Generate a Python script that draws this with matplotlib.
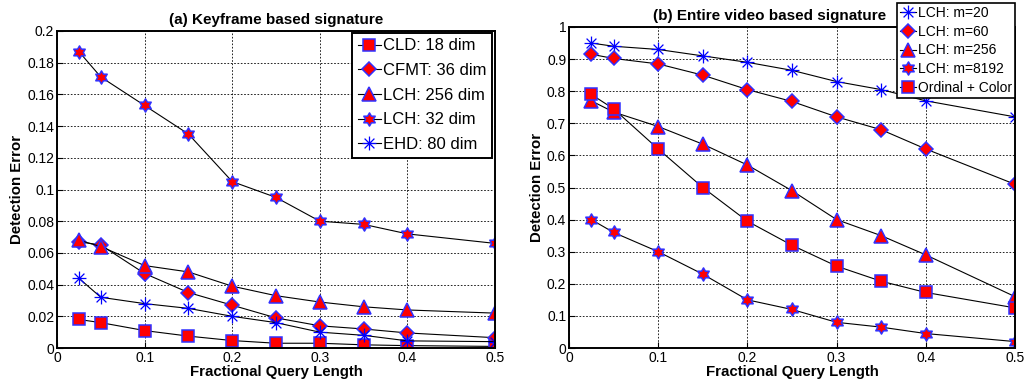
import matplotlib
matplotlib.use("Agg")
import matplotlib.pyplot as plt
from matplotlib.path import Path
import numpy as np

plt.rcParams['font.family'] = ['Liberation Sans', 'DejaVu Sans']

frac = [0.025, 0.05, 0.1, 0.15, 0.2, 0.25, 0.3, 0.35, 0.4, 0.5]

# (a) keyframe based signatures
cld_18 = [0.018, 0.016, 0.011, 0.0075, 0.0047, 0.003, 0.003, 0.002, 0.0015, 0.001]
cfmt_36 = [0.067, 0.065, 0.047, 0.035, 0.027, 0.019, 0.014, 0.012, 0.0095, 0.0065]
lch_256 = [0.068, 0.064, 0.052, 0.048, 0.039, 0.033, 0.029, 0.026, 0.024, 0.022]
lch_32 = [0.187, 0.171, 0.153, 0.135, 0.105, 0.095, 0.080, 0.078, 0.072, 0.066]
ehd_80 = [0.044, 0.032, 0.028, 0.025, 0.020, 0.016, 0.010, 0.008, 0.0045, 0.004]
labels_a = ['CLD: 18 dim', 'CFMT: 36 dim', 'LCH: 256 dim', 'LCH: 32 dim', 'EHD: 80 dim']

# (b) entire video based signatures
lch_m20 = [0.95, 0.94, 0.93, 0.91, 0.89, 0.865, 0.83, 0.805, 0.77, 0.72]
lch_m60 = [0.915, 0.902, 0.885, 0.85, 0.805, 0.768, 0.72, 0.68, 0.62, 0.51]
lch_m256 = [0.77, 0.735, 0.69, 0.635, 0.57, 0.49, 0.40, 0.35, 0.29, 0.16]
lch_m8192 = [0.40, 0.36, 0.30, 0.23, 0.15, 0.12, 0.08, 0.065, 0.045, 0.02]
ordinal_color = [0.79, 0.745, 0.62, 0.50, 0.395, 0.32, 0.255, 0.208, 0.173, 0.125]
labels_b = ['LCH: m=20', 'LCH: m=60', 'LCH: m=256', 'LCH: m=8192', 'Ordinal + Color']

# six-pointed star (hexagram)
ang = np.linspace(0, 2 * np.pi, 13)[:-1] + np.pi / 2
rad = np.where(np.arange(12) % 2 == 0, 1.0, 0.58)
verts = np.column_stack([rad * np.cos(ang), rad * np.sin(ang)])
hexagram = Path(np.vstack([verts, verts[:1]]), closed=True)

# eight-armed asterisk
ast_v, ast_c = [], []
for a in np.arange(4) * np.pi / 4:
    ast_v += [(np.cos(a), np.sin(a)), (-np.cos(a), -np.sin(a))]
    ast_c += [Path.MOVETO, Path.LINETO]
asterisk = Path(ast_v, ast_c)

styles = {
    's': dict(marker='s', markersize=8),
    'd': dict(marker='D', markersize=7.5),
    '^': dict(marker='^', markersize=10.5),
    'h': dict(marker=hexagram, markersize=9.5),
    '*': dict(marker=asterisk, markersize=10),
}


def draw(ax, y, key, label):
    st = styles[key]
    if key == '*':
        ax.plot(frac, y, color='black', lw=0.8, marker=st['marker'],
                markersize=st['markersize'], markeredgecolor='blue',
                markerfacecolor='none', markeredgewidth=0.9, label=label)
    else:
        ax.plot(frac, y, color='black', lw=0.8, marker=st['marker'],
                markersize=st['markersize'], markeredgecolor='#3030ff',
                markerfacecolor='red', markeredgewidth=1.1, label=label)


def style_axes(ax, ylim, yticks, yfmt):
    ax.set_xlim(0, 0.5)
    ax.set_ylim(*ylim)
    ax.set_xticks([0, 0.1, 0.2, 0.3, 0.4, 0.5])
    ax.set_xticklabels(['0', '0.1', '0.2', '0.3', '0.4', '0.5'])
    ax.set_yticks(yticks)
    ax.set_yticklabels([yfmt(v) for v in yticks])
    ax.grid(True, color='black', linestyle=(0, (2, 2)), linewidth=0.6)
    ax.tick_params(direction='in', labelsize=10, length=4, width=0.8, pad=2)
    for sp in ax.spines.values():
        sp.set_linewidth(1.4)
    ax.set_xlabel('Fractional Query Length', fontsize=10.8, fontweight='bold', labelpad=0)
    ax.set_ylabel('Detection Error', fontsize=10.8, fontweight='bold', labelpad=2)


def fmt(v):
    s = ('%.2f' % v).rstrip('0').rstrip('.')
    return s


fig = plt.figure(figsize=(10.24, 3.82), dpi=100)

ax1 = fig.add_axes([57 / 1024, 34 / 382, 438 / 1024, 317 / 382])
for y, k, lab in zip([cld_18, cfmt_36, lch_256, lch_32, ehd_80],
                     ['s', 'd', '^', 'h', '*'], labels_a):
    draw(ax1, y, k, lab)
style_axes(ax1, (0, 0.2), np.round(np.arange(0, 0.201, 0.02), 2), fmt)
ax1.set_title('(a) Keyframe based signature', fontsize=11, fontweight='bold', pad=5)
leg1 = ax1.legend(loc='upper right', fontsize=12, handlelength=1.4, handletextpad=0.1,
                  borderpad=0.35, labelspacing=0.58, fancybox=False, edgecolor='black',
                  framealpha=1, bbox_to_anchor=(0.993, 0.995), borderaxespad=0)
leg1.get_frame().set_linewidth(1.4)

ax2 = fig.add_axes([569 / 1024, 34 / 382, 446 / 1024, 321 / 382])
for y, k, lab in zip([lch_m20, lch_m60, lch_m256, lch_m8192, ordinal_color],
                     ['*', 'd', '^', 'h', 's'], labels_b):
    draw(ax2, y, k, lab)
style_axes(ax2, (0, 1), np.round(np.arange(0, 1.01, 0.1), 1), fmt)
ax2.set_title('(b) Entire video based signature', fontsize=11, fontweight='bold', pad=5,
              x=0.45)
leg2 = ax2.legend(loc='upper right', fontsize=10, handlelength=1.2, handletextpad=0.1,
                  borderpad=0.22, labelspacing=0.34, fancybox=False, edgecolor='black',
                  framealpha=1, bbox_to_anchor=(1.0, 1.075), borderaxespad=0)
leg2.get_frame().set_linewidth(1.2)

fig.savefig('out.png', dpi=100)
